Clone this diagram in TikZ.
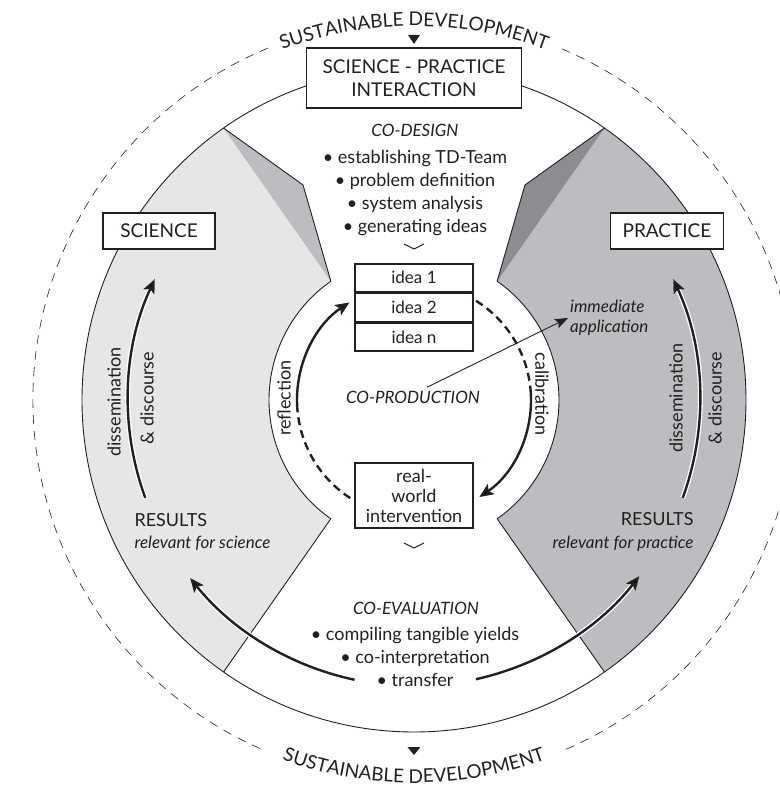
\documentclass[tikz,border=0pt]{standalone}
\usepackage{fontspec}
\setmainfont{Lato}
\usetikzlibrary{arrows.meta,positioning,decorations.text}
\definecolor{ink}{RGB}{35,31,32}
\definecolor{scifill}{RGB}{230,230,230}
\definecolor{scishade}{RGB}{189,189,193}
\definecolor{prafill}{RGB}{188,189,192}
\definecolor{prashade}{RGB}{140,140,145}
\newcommand{\capsize}{\fontsize{19}{23}\selectfont}
\newcommand{\txtsize}{\fontsize{18}{22.7}\selectfont}
\newcommand{\itsize}{\fontsize{17}{20}\selectfont\itshape}

\begin{document}
\begin{tikzpicture}[x=1pt,y=1pt,
	namebox/.style={draw=ink,fill=white,line width=1.8pt,text=ink,font=\capsize,inner sep=2pt},
	ideabox/.style={draw=ink,fill=white,line width=1.6pt,text=ink,font=\fontsize{17}{20}\selectfont,minimum width=118.4pt,minimum height=28pt,inner sep=1pt},
	bodytext/.style={text=ink,font=\txtsize,align=center},
	phase/.style={text=ink,font=\itsize},
	loopline/.style={draw=ink,line width=2.4pt},
	loophead/.style={loopline,-{Stealth[length=14pt,width=12pt,inset=3pt]}},
	flow/.style={draw=ink,line width=2.4pt,-{Stealth[length=14pt,width=12pt,inset=3pt]},preaction={draw=white,line width=5pt}},
	alongarc/.style={decorate,decoration={text along path,text align=center,text color=ink,text={#1}}}]
	\path[use as bounding box,fill=white] (-414,-387) rectangle (365,400);
	% science and practice sides
	\fill[scifill] (125:332) -- (117.3:242) -- (125:145) arc[start angle=125,end angle=235,radius=145] -- (235:332) arc[start angle=235,end angle=125,radius=332] -- cycle;
	\fill[scishade] (125:332) -- (117.3:242) -- (125:145) -- cycle;
	\fill[prafill] (55:332) -- (62.7:242) -- (55:145) arc[start angle=55,end angle=-55,radius=145] -- (-55:332) arc[start angle=-55,end angle=55,radius=332] -- cycle;
	\fill[prashade] (55:332) -- (62.7:242) -- (55:145) -- cycle;
	\draw[ink,line width=0.9pt] (0,0) circle[radius=332];
	\draw[ink,line width=0.9pt] (125:332) -- (117.3:242) -- (125:145) arc[start angle=125,end angle=235,radius=145] -- (235:332);
	\draw[ink,line width=0.9pt] (55:332) -- (62.7:242) -- (55:145) arc[start angle=55,end angle=-55,radius=145] -- (-55:332);
	% sustainable development
	\draw[ink,line width=0.6pt,dash pattern=on 9pt off 7pt] (-66.5:381) arc[start angle=-66.5,end angle=67.5,radius=381];
	\draw[ink,line width=0.6pt,dash pattern=on 9pt off 7pt] (112.5:381) arc[start angle=112.5,end angle=246.5,radius=381];
	\path[alongarc={|\capsize|SUSTAINABLE DEVELOPMENT}] (118:374) arc[start angle=118,end angle=62,radius=374];
	\path[alongarc={|\capsize|SUSTAINABLE DEVELOPMENT}] (242:383) arc[start angle=242,end angle=298,radius=383];
	\fill[ink] (-6,365) -- (6,365) -- (0,356) -- cycle;
	\fill[ink] (-6.5,-347) -- (6.5,-347) -- (0,-355) -- cycle;
	% boxes
	\node[namebox,minimum width=215pt,minimum height=60pt,align=center] (interaction) at (0,322) {SCIENCE - PRACTICE\\INTERACTION};
	\node[namebox,minimum width=112pt,minimum height=36pt] (science) at (-255,169) {SCIENCE};
	\node[namebox,minimum width=113pt,minimum height=36pt] (practice) at (253,169) {PRACTICE};
	% co-design
	\node[phase] (codesign) at (1,270) {CO-DESIGN};
	\node[bodytext] (designsteps) at (1,207) {\textbullet\ establishing TD-Team\\ \textbullet\ problem definition\\ \textbullet\ system analysis\\ \textbullet\ generating ideas};
	\node[ideabox] (idea1) at (0,122.2) {idea 1};
	\node[ideabox,below=0pt of idea1] (idea2) {idea 2};
	\node[ideabox,below=0pt of idea2] (idean) {idea n};
	\draw[ink,line width=0.9pt] ([shift={(-10,19)}]idea1.north) -- ([yshift=14]idea1.north) -- ([shift={(10,19)}]idea1.north);
	% co-production
	\node[phase] (coproduction) at (-1,3) {CO-PRODUCTION};
	\node[ideabox,minimum height=65.4pt,font=\fontsize{18}{20}\selectfont,align=center] (realworld) at (0,-95.5) {real-\\world\\intervention};
	\draw[ink,line width=0.9pt] ([shift={(-10,-14)}]realworld.south) -- ([yshift=-19]realworld.south) -- ([shift={(10,-14)}]realworld.south);
	\node[phase,align=left,anchor=west,inner sep=2pt] (immediate) at (154,82) {immediate\\application};
	\draw[ink,line width=0.9pt,-{Stealth[length=13pt,width=10pt,inset=2.5pt]}] ([xshift=14pt]coproduction.north) -- (immediate.west);
	\coordinate (reflect start) at (237:117);
	\coordinate (reflect mid) at (183:117);
	\coordinate (calib start) at (58:117);
	\coordinate (calib mid) at (5:117);
	\draw[loopline,dash pattern=on 8pt off 5pt] (reflect start) arc[start angle=237,end angle=183,radius=117];
	\draw[loophead] (reflect mid) arc[start angle=183,end angle=123.5,radius=117];
	\draw[loopline,dash pattern=on 8pt off 5pt] (calib start) arc[start angle=58,end angle=5,radius=117];
	\draw[loophead] (calib mid) arc[start angle=5,end angle=-56,radius=117];
	\node[bodytext,rotate=90,inner sep=0pt] (reflectlabel) at (-130,2) {reflection};
	\node[bodytext,rotate=-90,inner sep=0pt] (caliblabel) at (128,6) {calibration};
	% dissemination
	\coordinate (sci up) at (200:286);
	\coordinate (pra up) at (-20:286);
	\draw[flow] (sci up) arc[start angle=200,end angle=155,radius=286];
	\draw[flow] (pra up) arc[start angle=-20,end angle=25,radius=286];
	\node[bodytext,rotate=90,inner sep=0pt] (scidissem) at (-300,-2) {dissemination};
	\node[bodytext,rotate=90,inner sep=0pt] (scidiscourse) at (-267,2) {\& discourse};
	\node[bodytext,rotate=90,inner sep=0pt] (pradissem) at (262,2) {dissemination};
	\node[bodytext,rotate=90,inner sep=0pt] (pradiscourse) at (301,2) {\& discourse};
	\node[bodytext,align=left,anchor=west] (sciresults) at (-283,-132) {RESULTS\\{\itsize relevant for science}};
	\node[bodytext,align=right,anchor=east] (praresults) at (283,-132) {RESULTS\\{\itsize relevant for practice}};
	% co-evaluation
	\node[phase] (coevaluation) at (2,-208) {CO-EVALUATION};
	\node[bodytext] (evalsteps) at (1,-257) {\textbullet\ compiling tangible yields\\ \textbullet\ co-interpretation\\ \textbullet\ transfer};
	\coordinate (sci out) at (258:286);
	\coordinate (pra out) at (282.5:286);
	\draw[flow] (sci out) arc[start angle=258,end angle=218.5,radius=286];
	\draw[flow] (pra out) arc[start angle=282.5,end angle=322,radius=286];
\end{tikzpicture}
\end{document}
